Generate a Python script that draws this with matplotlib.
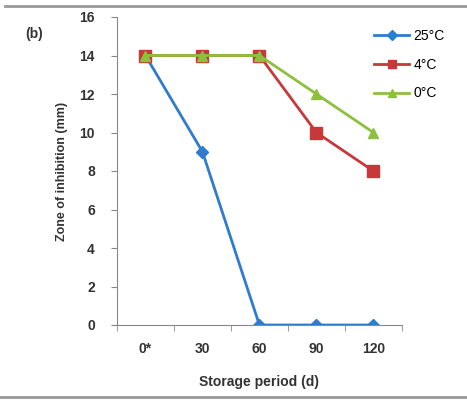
import matplotlib
matplotlib.use("Agg")
import matplotlib.pyplot as plt
from matplotlib.lines import Line2D

days = ["0*", "30", "60", "90", "120"]
temp_25 = [14, 9, 0, 0, 0]
temp_4 = [14, 14, 14, 10, 8]
temp_0 = [14, 14, 14, 12, 10]
labels = ["25°C", "4°C", "0°C"]

plt.rcParams['font.family'] = ['Liberation Sans', 'DejaVu Sans']

fig = plt.figure(figsize=(4.67, 4.0), dpi=100)
ax = fig.add_axes([0.2505, 0.1875, 0.61, 0.77])

x = list(range(len(days)))
ax.plot(x, temp_25, color='#2E7BCF', marker='D', markersize=6, lw=2, label=labels[0])
ax.plot(x, temp_4, color='#C8373A', marker='s', markersize=8, lw=2, label=labels[1])
ax.plot(x, temp_0, color='#8DC03F', marker='^', markersize=7.5, lw=2, label=labels[2])

ax.set_xlim(-0.5, len(days) - 0.5)
ax.set_ylim(0, 16)
ax.set_yticks(range(0, 17, 2))
ax.set_xticks(x)
ax.set_xticklabels(days)
ax.set_xticks([i - 0.5 for i in range(len(days) + 1)], minor=True)
ax.tick_params(axis='x', which='major', length=0, pad=12)
ax.tick_params(axis='x', which='minor', length=4, direction='out', color='#888888')
ax.tick_params(axis='y', length=4, direction='out', color='#888888', pad=12)
for lab in ax.get_xticklabels() + ax.get_yticklabels():
    lab.set_fontweight('bold')
    lab.set_fontsize(10)
    lab.set_color('#333333')

for s in ['top', 'right']:
    ax.spines[s].set_visible(False)
for s in ['left', 'bottom']:
    ax.spines[s].set_color('#888888')

ax.set_xlabel("Storage period (d)", fontsize=10, fontweight='bold', labelpad=14, color='#333333')
ax.set_ylabel("Zone of inhibition (mm)", fontsize=9, fontweight='bold', labelpad=8, color='#333333')
fig.text(0.055, 0.905, "(b)", fontsize=10, fontweight='bold', color='#333333')

ax.legend(loc='upper left', bbox_to_anchor=(0.775, 0.958), bbox_transform=fig.transFigure,
          frameon=False, fontsize=10, handlelength=2.5, labelspacing=1.05, handletextpad=0.3,
          markerscale=0.8)

# grey frame lines of the screenshot
fig.add_artist(Line2D([0.01, 1.0], [0.985, 0.985], color='#999999', lw=2, transform=fig.transFigure))
fig.add_artist(Line2D([0.0, 1.0], [0.008, 0.008], color='#999999', lw=2, transform=fig.transFigure))

fig.savefig("out.png", dpi=100)
